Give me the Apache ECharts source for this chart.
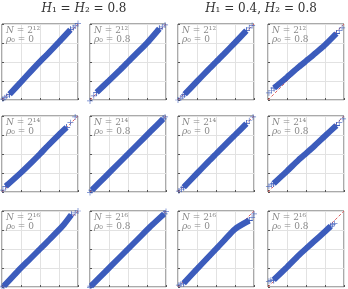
<!DOCTYPE html>
<html>
<head>
<meta charset="utf-8">
<script src="https://cdn.jsdelivr.net/npm/echarts@6/dist/echarts.min.js"></script>
<style>
  html, body { margin: 0; padding: 0; background: #fff; }
  #main { width: 348px; height: 289px; }
</style>
</head>
<body>
<div id="main"></div>
<script>
// column / row titles and panel labels ({i|..} is italic)
const groupTitles = ['{i|H}₁ = {i|H}₂ = 0.8', '{i|H}₁ = 0.4, {i|H}₂ = 0.8'];
const sizeLabels = ['{i|N} = 2¹²', '{i|N} = 2¹⁴', '{i|N} = 2¹⁶'];
const rhoLabels = ['{i|ρ}₀ = 0', '{i|ρ}₀ = 0.8', '{i|ρ}₀ = 0', '{i|ρ}₀ = 0.8'];

// QQ band, axis units 0..4, one list per panel (row-major)
const bandX = [
  [0.4, 1.0, 1.6, 2.0, 2.4, 3.0, 3.6],
  [0.35, 1.0, 1.6, 2.0, 2.4, 3.0, 3.65],
  [0.35, 1.0, 1.6, 2.0, 2.4, 3.0, 3.6],
  [0.32, 1.0, 1.6, 2.0, 2.4, 3.0, 3.6],
  [0.2, 1.0, 1.6, 2.0, 2.4, 3.0, 3.4],
  [0.1, 0.8, 1.5, 2.0, 2.5, 3.2, 3.85],
  [0.3, 1.0, 1.6, 2.0, 2.4, 3.0, 3.6],
  [0.3, 1.0, 1.6, 2.0, 2.4, 3.0, 3.6],
  [0.1, 0.8, 1.5, 2.0, 2.5, 3.2, 3.65],
  [0.05, 0.8, 1.5, 2.0, 2.5, 3.2, 3.9],
  [0.3, 1.0, 1.6, 2.0, 2.4, 3.0, 3.75],
  [0.3, 1.0, 1.6, 2.0, 2.4, 3.0, 3.3]
];
const bandY = [
  [0.3, 0.95, 1.6, 2.02, 2.42, 3.05, 3.7],
  [0.4, 1.02, 1.6, 2.0, 2.4, 3.0, 3.75],
  [0.3, 0.98, 1.6, 2.0, 2.4, 3.02, 3.65],
  [0.63, 1.2, 1.72, 2.05, 2.38, 2.9, 3.5],
  [0.3, 1.02, 1.6, 2.0, 2.42, 3.02, 3.4],
  [0.1, 0.8, 1.5, 2.0, 2.5, 3.2, 3.85],
  [0.25, 0.98, 1.6, 2.0, 2.4, 3.0, 3.6],
  [0.45, 1.1, 1.68, 2.03, 2.38, 2.95, 3.5],
  [0.05, 0.8, 1.5, 2.0, 2.5, 3.22, 3.8],
  [0.05, 0.8, 1.5, 2.0, 2.5, 3.2, 3.85],
  [0.2, 0.95, 1.58, 2.0, 2.42, 3.05, 3.5],
  [0.37, 1.05, 1.65, 2.02, 2.38, 2.92, 3.2]
];
// sparse tail markers
const tailPts = [
  [[0.05, 0.05], [0.15, 0.12], [0.25, 0.2], [3.75, 3.8], [3.85, 3.9], [4.0, 4.02]],
  [[0.0, -0.05], [0.2, 0.22], [3.8, 3.85], [3.95, 3.95]],
  [[0.0, 0.0], [0.15, 0.1], [0.25, 0.2], [3.75, 3.8], [3.9, 3.92]],
  [[0.05, 0.37], [0.18, 0.5], [3.75, 3.65], [3.9, 3.8]],
  [[0.05, 0.1], [3.6, 3.65], [3.85, 3.95]],
  [[0.0, -0.02], [3.95, 3.95]],
  [[0.05, 0.05], [0.18, 0.15], [3.75, 3.75], [3.95, 3.95]],
  [[0.05, 0.3], [0.18, 0.38], [3.75, 3.65], [3.95, 3.85]],
  [[0.0, 0.0], [3.85, 3.9], [4.0, 4.0]],
  [[0.0, -0.02], [4.0, 3.98]],
  [[0.05, 0.1], [0.15, 0.15], [3.9, 3.65], [4.0, 3.85]],
  [[0.05, 0.3], [0.15, 0.35], [3.4, 3.28], [3.5, 3.35]]
];
const refLine = [[0, 0], [4, 4]];

const colLeft = [2, 90, 178, 268];
const rowTop = [24, 116, 211];
const panelW = 76, panelH = 76;

const plus = 'path://M-0.12,-1H0.12V-0.12H1V0.12H0.12V1H-0.12V0.12H-1V-0.12H-0.12Z';
const blue = '#3c5cbc';
const serif = 'DejaVu Serif';

const grids = [], xAxes = [], yAxes = [], series = [], graphics = [];
const axisBase = {
  min: 0, max: 4, interval: 1,
  axisLabel: { show: false },
  axisLine: { show: false },
  axisTick: { show: true, inside: true, length: 2, lineStyle: { color: '#555' } },
  splitLine: { show: true, lineStyle: { color: '#e2e2e2', width: 1 } }
};

for (let r = 0; r < 3; r++) {
  for (let c = 0; c < 4; c++) {
    const i = r * 4 + c;
    grids.push({
      left: colLeft[c], top: rowTop[r], width: panelW, height: panelH,
      show: true, borderColor: '#555', borderWidth: 1, backgroundColor: 'transparent'
    });
    xAxes.push({ ...axisBase, type: 'value', gridIndex: i });
    yAxes.push({ ...axisBase, type: 'value', gridIndex: i });
    series.push({
      type: 'line', xAxisIndex: i, yAxisIndex: i, data: refLine,
      symbol: 'none', z: 2, silent: true,
      lineStyle: { color: '#e06060', width: 1, type: [3, 2] }
    });
    series.push({
      type: 'line', xAxisIndex: i, yAxisIndex: i,
      data: bandX[i].map((x, k) => [x, bandY[i][k]]),
      smooth: 0.25, z: 3, silent: true,
      symbol: plus, symbolSize: 7, itemStyle: { color: blue },
      lineStyle: { color: blue, width: 6 }
    });
    series.push({
      type: 'scatter', xAxisIndex: i, yAxisIndex: i, data: tailPts[i],
      symbol: plus, symbolSize: 6, clip: false, z: 4, silent: true,
      itemStyle: { color: blue, opacity: 0.8 }
    });
    graphics.push({
      type: 'text', left: colLeft[c] + 4, top: rowTop[r] + 2, z: 10,
      style: {
        text: sizeLabels[r] + '\n' + rhoLabels[c],
        font: '9px "' + serif + '"', fill: '#8a8a8a', lineHeight: 9,
        rich: { i: { fontStyle: 'italic', fontFamily: serif, fontSize: 9, fill: '#8a8a8a', lineHeight: 9 } }
      }
    });
  }
}

groupTitles.forEach((t, g) => {
  graphics.push({
    type: 'text', x: (colLeft[g * 2] + colLeft[g * 2 + 1] + panelW) / 2, y: 3,
    style: {
      text: t, font: '12px "' + serif + '"', fill: '#333',
      textAlign: 'center', textVerticalAlign: 'top',
      rich: { i: { fontStyle: 'italic', fontFamily: serif, fontSize: 12, fill: '#333' } }
    }
  });
});

const chart = echarts.init(document.getElementById('main'));
chart.setOption({
  animation: false,
  grid: grids,
  xAxis: xAxes,
  yAxis: yAxes,
  series: series,
  graphic: graphics
});
</script>
</body>
</html>
